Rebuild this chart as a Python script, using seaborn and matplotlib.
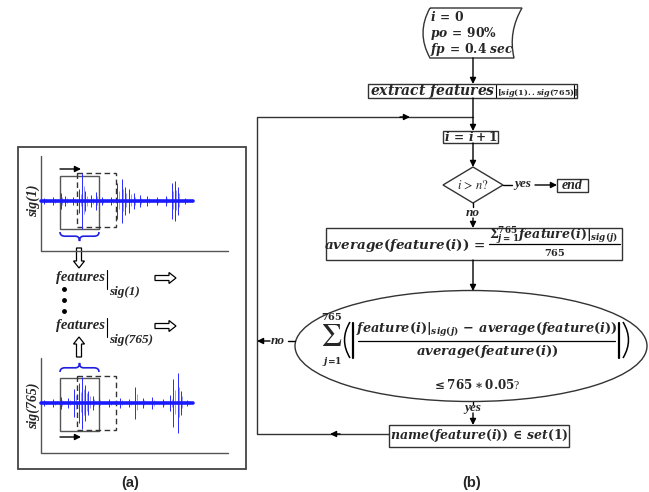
import numpy as np
import pandas as pd
import seaborn as sns
import matplotlib
matplotlib.use("Agg")
import matplotlib.pyplot as plt
from matplotlib.patches import Rectangle, Polygon, Ellipse, PathPatch, FancyArrow
from matplotlib.path import Path

sns.set_theme(style="white")
plt.rcParams['font.family'] = ['Liberation Serif', 'DejaVu Sans']
plt.rcParams['mathtext.fontset'] = 'custom'
plt.rcParams['mathtext.it'] = 'DejaVu Serif:bold:italic'
plt.rcParams['mathtext.rm'] = 'DejaVu Serif:bold'
plt.rcParams['mathtext.bf'] = 'DejaVu Serif:bold'

# ---- data: spikes of the two signals (position 0..1 along trace, amplitude in px) ----
sig1_pos = [0.02, 0.08, 0.13, 0.16, 0.21, 0.25, 0.27, 0.29, 0.33, 0.36, 0.40,
            0.46, 0.50, 0.53, 0.55, 0.58, 0.61, 0.65, 0.70, 0.76, 0.82, 0.86,
            0.88, 0.90, 0.95]
sig1_amp = [3, 4, 8, 5, 4, 12, 28, 10, 6, 9, 4, 4, 18, 22, 14, 12, 8, 6, 5,
            4, 5, 18, 20, 14, 3]
sig765_pos = [0.02, 0.08, 0.13, 0.18, 0.22, 0.25, 0.27, 0.29, 0.31, 0.34, 0.38,
              0.45, 0.52, 0.58, 0.62, 0.67, 0.73, 0.80, 0.85, 0.87, 0.90, 0.92, 0.96]
sig765_amp = [3, 4, 6, 5, 14, 20, 26, 18, 12, 7, 5, 4, 5, 4, 16, 5, 6, 4, 8,
              24, 30, 12, 3]

flow_labels = {
    "start": [r"$i\,=\,0$", r"$po\,=\,90\%$", r"$fp\,=\,0.4\ sec$"],
    "extract": r"$extract\ features$",
    "extract_sub": r"$[sig(1)..sig(765)]$",
    "incr": r"$i\,=\,i+1$",
    "cond": r"$i\,>\,n?$",
    "end": "end",
    "avg_lhs": r"$average\left(feature(i)\right)\,=$",
    "avg_num": r"$\Sigma_{j=1}^{765}feature(i)|_{sig(j)}$",
    "avg_den": r"$765$",
    "test_num": r"$feature(i)|_{sig(j)}\,-\,average\left(feature(i)\right)$",
    "test_den": r"$average\left(feature(i)\right)$",
    "sum_top": r"$765$",
    "sum_bot": r"$j\!=\!1$",
    "thr": r"$\leq 765\ast 0.05$?",
    "name": r"$name\left(feature(i)\right)\,\in\,set(1)$",
}

W, H = 649, 492
fig = plt.figure(figsize=(W / 100, H / 100), dpi=100)
ax = fig.add_axes([0, 0, 1, 1])
ax.set_xlim(0, W)
ax.set_ylim(H, 0)
ax.axis('off')

LC = '#333333'
bi = dict(family='Liberation Serif', weight='bold', style='italic')


def arrow(x0, y0, x1, y1, head=True):
    ax.annotate('', xy=(x1, y1), xytext=(x0, y0),
                arrowprops=dict(arrowstyle='-|>' if head else '-', color='black',
                                lw=1.0, mutation_scale=9, shrinkA=0, shrinkB=0))


def hollow(x, y, dx, dy):
    ax.add_patch(FancyArrow(x, y, dx, dy, width=5, head_width=11, head_length=7,
                            length_includes_head=True, fc='white', ec='black', lw=0.9))


def brace(x0, x1, y, d):
    xm = (x0 + x1) / 2
    verts = [(x0, y), (x0, y + d * 0.6), (x0 + 5, y + d * 0.6),
             (xm - 4, y + d * 0.6), (xm, y + d * 0.6), (xm, y + d * 1.3),
             (xm, y + d * 0.6), (xm + 4, y + d * 0.6),
             (x1 - 5, y + d * 0.6), (x1, y + d * 0.6), (x1, y)]
    codes = [Path.MOVETO, Path.CURVE3, Path.CURVE3, Path.LINETO, Path.CURVE3, Path.CURVE3,
             Path.CURVE3, Path.CURVE3, Path.LINETO, Path.CURVE3, Path.CURVE3]
    ax.add_patch(PathPatch(Path(verts, codes), fc='none', ec='#2020e0', lw=1.2))


def paren(x_end, x_mid, y0, y1):
    verts = [(x_end, y0), (x_mid, (y0 + y1) / 2), (x_end, y1)]
    ax.add_patch(PathPatch(Path(verts, [Path.MOVETO, Path.CURVE3, Path.CURVE3]),
                           fc='none', ec='black', lw=1.1))


def signal(pos, amp, x0, x1, yb):
    df = pd.DataFrame({'x': x0 + np.array(pos) * (x1 - x0), 'a': amp})
    ax.vlines(df['x'], yb - df['a'], yb + df['a'], color='#2a2aff', lw=0.7)
    ax.vlines(df['x'] + 1.6, yb - df['a'] * 0.55, yb + df['a'] * 0.45,
              color='#4a4aff', lw=0.5, alpha=0.8)
    sns.lineplot(x=[x0, x1], y=[yb, yb], ax=ax, color='#1a1aff', lw=2.6, legend=False)


# ---------------- panel (a) ----------------
ax.add_patch(Rectangle((18, 147), 228, 322, fc='none', ec='#444444', lw=1.3))

for (ytop, ybot, yb, pos, amp, lab, lab_y, rect_y, dash_y, arr_y) in [
        (156, 251, 201, sig1_pos, sig1_amp, 'sig(1)', 201, 176, 173, 169),
        (358, 453, 403, sig765_pos, sig765_amp, 'sig(765)', 406, 378, 376, 437)]:
    ax.plot([41, 41, 228], [ytop, ybot, ybot], color='#555555', lw=1.0)
    signal(pos, amp, 41, 193, yb)
    ax.add_patch(Rectangle((60, rect_y), 39, 53, fc='none', ec='#555555', lw=1.0))
    ax.add_patch(Rectangle((77, dash_y), 39, 54, fc='none', ec='#333333', lw=1.0,
                           ls=(0, (4, 2.5))))
    arrow(60, arr_y, 81, arr_y)
    ax.text(33, lab_y, lab, rotation=90, ha='center', va='center', fontsize=10, **bi)

brace(60, 99, 232, 7)
brace(60, 99, 372, -7)
hollow(79, 248, 0, 20)
hollow(79, 357, 0, -20)

for yy, sub in [(278, 'sig(1)'), (326, 'sig(765)')]:
    ax.text(105, yy, 'features', ha='right', va='center', fontsize=10.5, **bi)
    ax.plot([107, 107], [yy - 8, yy + 11], color='black', lw=0.8)
    ax.text(109, yy + 14, sub, ha='left', va='center', fontsize=9.5, **bi)
    hollow(155, yy, 21, 0)
for yy in [289, 300, 311]:
    ax.plot(64, yy, 'o', color='black', ms=2.5)

ax.text(130, 483, '(a)', ha='center', va='center', fontsize=10.5,
        family='Liberation Sans', weight='bold')

# ---------------- panel (b) ----------------
verts = [(430, 8), (522, 8), (508, 32), (514, 58), (430, 58), (416, 33), (430, 8)]
codes = [Path.MOVETO, Path.LINETO, Path.CURVE3, Path.CURVE3, Path.LINETO,
         Path.CURVE3, Path.CURVE3]
ax.add_patch(PathPatch(Path(verts, codes), fc='white', ec='#333333', lw=1.0))
for k, t in enumerate(flow_labels["start"]):
    ax.text(430, 17 + 16 * k, t, ha='left', va='center', fontsize=8.8)

arrow(473, 58, 473, 84)
ax.add_patch(Rectangle((368, 84), 209, 14, fc='white', ec='#333333', lw=1.0))
ax.text(370, 91, flow_labels["extract"], ha='left', va='center', fontsize=10)
ax.plot([496, 496], [85, 97], color='black', lw=0.8)
ax.text(497, 93, flow_labels["extract_sub"], ha='left', va='center', fontsize=5.8)
ax.plot([574, 574], [85, 97], color='black', lw=0.8)
arrow(473, 98, 473, 131)
ax.add_patch(Rectangle((443, 131), 55, 12, fc='white', ec='#333333', lw=1.0))
ax.text(470.5, 137, flow_labels["incr"], ha='center', va='center', fontsize=8.8)
arrow(473, 143, 473, 167)

ax.add_patch(Polygon([(443, 185), (473, 167), (503, 185), (473, 203)], closed=True,
                     fc='white', ec='#333333', lw=1.0))
ax.text(473, 185, flow_labels["cond"], ha='center', va='center', fontsize=9,
        math_fontfamily='stix')
ax.plot([503, 512], [185, 185], color='black', lw=1.0)
ax.text(523, 184, 'yes', ha='center', va='center', fontsize=9.5, **bi)
arrow(535, 185, 557, 185)
ax.add_patch(Rectangle((557, 179), 31, 13, fc='white', ec='#333333', lw=1.0))
ax.text(572, 185.5, flow_labels["end"], ha='center', va='center', fontsize=10, **bi)

ax.plot([473, 473], [203, 207], color='black', lw=1.0)
ax.text(473, 213, 'no', ha='center', va='center', fontsize=9.5, **bi)
arrow(473, 218, 473, 228)

# average box
ax.add_patch(Rectangle((326, 228), 296, 32, fc='white', ec='#333333', lw=1.0))
ax.text(486, 245, flow_labels["avg_lhs"], ha='right', va='center', fontsize=9.7)
ax.text(489, 235, flow_labels["avg_num"], ha='left', va='center', fontsize=9)
ax.plot([489, 620], [243.5, 243.5], color='black', lw=0.9)
ax.text(555, 252, flow_labels["avg_den"], ha='center', va='center', fontsize=7)
arrow(473, 260, 473, 291)

# ellipse decision
ax.add_patch(Ellipse((471, 346), 352, 111, fc='white', ec='#333333', lw=1.0))
ax.text(332, 339, r'$\Sigma$', ha='center', va='center', fontsize=23,
        math_fontfamily='stix')
ax.text(332, 317, flow_labels["sum_top"], ha='center', va='center', fontsize=7)
ax.text(332, 362, flow_labels["sum_bot"], ha='center', va='center', fontsize=6.5)
paren(350, 339, 322, 358)
paren(623, 634, 322, 358)
for bx in (353, 619):
    ax.plot([bx, bx], [323, 358], color='black', lw=1.6)
ax.text(487, 330, flow_labels["test_num"], ha='center', va='center', fontsize=9.3)
ax.plot([358, 615], [340.5, 340.5], color='black', lw=0.9)
ax.text(487, 351, flow_labels["test_den"], ha='center', va='center', fontsize=9.5)
ax.text(476, 385, flow_labels["thr"], ha='center', va='center', fontsize=8.6)

ax.plot([295, 288], [341, 341], color='black', lw=1.0)
ax.text(278, 341, 'no', ha='center', va='center', fontsize=9.5, **bi)
arrow(270, 341, 257, 341)

ax.plot([473, 473], [402, 404], color='black', lw=1.0)
ax.text(473, 408, 'yes', ha='center', va='center', fontsize=9.5, **bi)
arrow(473, 413, 473, 425)
ax.add_patch(Rectangle((389, 425), 180, 22, fc='white', ec='#333333', lw=1.0))
ax.text(479, 436, flow_labels["name"], ha='center', va='center', fontsize=9)

# feedback loop
ax.plot([389, 257, 257, 473], [434, 434, 117, 117], color=LC, lw=1.0)
arrow(340, 434, 330, 434)
arrow(400, 117, 410, 117)

ax.text(472, 483, '(b)', ha='center', va='center', fontsize=10.5,
        family='Liberation Sans', weight='bold')

fig.savefig('out.png', dpi=100)
